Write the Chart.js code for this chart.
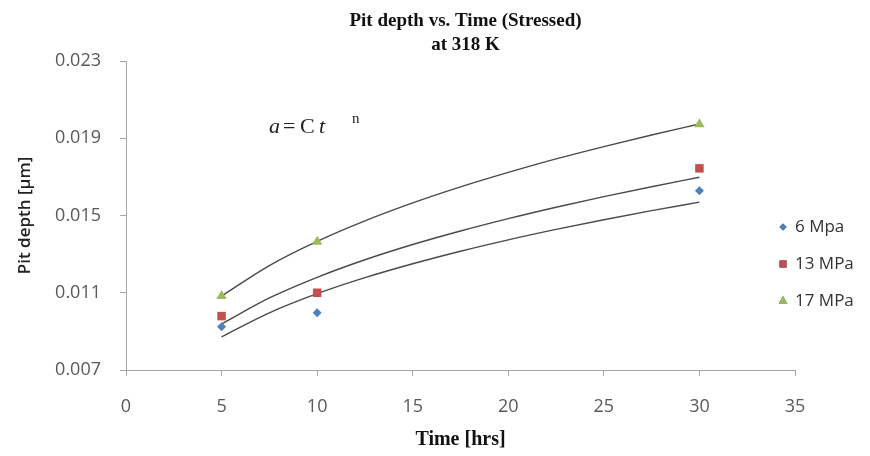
<!DOCTYPE html>
<html>
<head>
<meta charset="utf-8">
<script src="https://cdn.jsdelivr.net/npm/chart.js@4.4.1/dist/chart.umd.min.js"></script>
<style>
  html, body { margin: 0; padding: 0; background: #fff; }
  #wrap { width: 870px; height: 456px; }
</style>
</head>
<body>
<div id="wrap"><canvas id="pit"></canvas></div>
<script>
// measured points (time in hrs, pit depth)
const times = [5, 10, 30];
const mpa6 = [0.00924, 0.00997, 0.01628];
const mpa13 = [0.00979, 0.0110, 0.01744];
const mpa17 = [0.01083, 0.01364, 0.01973];

// power-law trend lines a = C t^n
const fitTimes = [5, 7.5, 10, 12.5, 15, 17.5, 20, 22.5, 25, 27.5, 30];
const fit6 = [0.00872, 0.00996, 0.01095, 0.01178, 0.01250, 0.01315, 0.01374, 0.01428, 0.01478, 0.01525, 0.01569];
const fit13 = [0.00938, 0.01073, 0.01180, 0.01271, 0.01350, 0.01420, 0.01484, 0.01543, 0.01598, 0.01649, 0.01698];
const fit17 = [0.01083, 0.01241, 0.01366, 0.01472, 0.01565, 0.01648, 0.01723, 0.01793, 0.01857, 0.01917, 0.01974];

const seriesNames = ['6 Mpa', '13 MPa', '17 MPa'];
const yTicks = [0.007, 0.011, 0.015, 0.019, 0.023];
const titleLines = ['Pit depth vs. Time (Stressed)', 'at 318 K'];

const pts = (xs, ys) => xs.map((x, i) => ({ x, y: ys[i] }));

const BLUE = '#4f81bd', RED = '#c0504d', GREEN = '#9bbb59';
const AXIS = '#a6a6a6';
const SANS = '"Open Sans", "Liberation Sans", sans-serif';
const SERIF = '"Liberation Serif", "DejaVu Serif", serif';

const markerSet = (label, data, color, style, r) => ({
  label, data, type: 'scatter',
  pointStyle: style, pointRadius: r, pointHoverRadius: r,
  backgroundColor: color, borderColor: color, borderWidth: 0, order: 1
});
const fitLine = (data) => ({
  label: 'fit', data, type: 'line', showLine: true,
  borderColor: '#4a4a4a', borderWidth: 1.4, pointRadius: 0,
  cubicInterpolationMode: 'monotone', fill: false, order: 2
});

// two-line title, centred over the plot area like the original
const plotTitle = {
  id: 'plotTitle',
  afterDraw(chart) {
    const { ctx, chartArea: a } = chart;
    const cx = (a.left + a.right) / 2 + 5;
    ctx.save();
    ctx.fillStyle = '#111';
    ctx.font = 'bold 19px ' + SERIF;
    ctx.textAlign = 'center';
    ctx.textBaseline = 'middle';
    ctx.fillText(titleLines[0], cx, 21);
    ctx.fillText(titleLines[1], cx, 45);
    ctx.restore();
  }
};

// equation text a = C t^n
const formula = {
  id: 'formula',
  afterDatasetsDraw(chart) {
    const { ctx, chartArea: a } = chart;
    const x0 = a.left, base = 133;
    ctx.save();
    ctx.fillStyle = '#222';
    ctx.textBaseline = 'alphabetic';
    ctx.font = 'italic 22px ' + SERIF;
    ctx.fillText('a', x0 + 143, base);
    ctx.font = '22px ' + SERIF;
    ctx.fillText('=', x0 + 157, base);
    ctx.fillText('C', x0 + 174, base);
    ctx.font = 'italic 22px ' + SERIF;
    ctx.fillText('t', x0 + 193, base);
    ctx.font = '15px ' + SERIF;
    ctx.fillText('n', x0 + 226, base - 10);
    ctx.restore();
  }
};

// right-hand legend, markers only
const sideLegend = {
  id: 'sideLegend',
  afterDraw(chart) {
    const { ctx } = chart;
    const rows = [227, 264, 301];
    ctx.save();
    chart.data.datasets.filter(d => d.type === 'scatter').forEach((d, i) => {
      Chart.helpers.drawPoint(ctx, {
        pointStyle: d.pointStyle, radius: d.pointRadius - 1, borderWidth: 0
      }, 783, rows[i]);
      ctx.fillStyle = d.backgroundColor;
      ctx.fill();
      ctx.fillStyle = '#333';
      ctx.font = '17px ' + SANS;
      ctx.textBaseline = 'middle';
      ctx.fillText(d.label, 795, rows[i]);
    });
    ctx.restore();
  }
};

new Chart(document.getElementById('pit'), {
  data: {
    datasets: [
      markerSet(seriesNames[0], pts(times, mpa6), BLUE, 'rectRot', 4.5),
      markerSet(seriesNames[1], pts(times, mpa13), RED, 'rect', 6),
      markerSet(seriesNames[2], pts(times, mpa17), GREEN, 'triangle', 6),
      fitLine(pts(fitTimes, fit6)),
      fitLine(pts(fitTimes, fit13)),
      fitLine(pts(fitTimes, fit17))
    ]
  },
  options: {
    responsive: true,
    maintainAspectRatio: false,
    animation: false,
    layout: { padding: { left: 0, right: 75, top: 61, bottom: 0 } },
    plugins: {
      legend: { display: false },
      tooltip: { enabled: false },
      title: { display: false }
    },
    scales: {
      x: {
        type: 'linear', min: 0, max: 35,
        ticks: { stepSize: 5, color: '#595959', padding: 20, font: { family: SANS, size: 18 } },
        grid: { display: true, drawOnChartArea: false, drawTicks: true, tickLength: 6, color: AXIS },
        border: { display: true, color: AXIS },
        title: {
          display: true, text: 'Time [hrs]', color: '#111',
          font: { family: SERIF, size: 20, weight: 'bold' },
          padding: { top: 4, bottom: 4 }
        },
        afterFit: s => { s.height = 86; }
      },
      y: {
        type: 'linear', min: 0.007, max: 0.023,
        afterBuildTicks: s => { s.ticks = yTicks.map(v => ({ value: v })); },
        ticks: {
          color: '#595959', padding: 19, font: { family: SANS, size: 18 },
          callback: v => v.toFixed(3)
        },
        grid: { display: true, drawOnChartArea: false, drawTicks: true, tickLength: 6, color: AXIS },
        border: { display: true, color: AXIS },
        title: {
          display: true, text: 'Pit depth [µm]', color: '#222',
          font: { family: SANS, size: 17, weight: '600' },
          padding: { top: 15, bottom: 0 }
        },
        afterFit: s => { s.width = 126; }
      }
    }
  },
  plugins: [plotTitle, formula, sideLegend]
});
</script>
</body>
</html>
